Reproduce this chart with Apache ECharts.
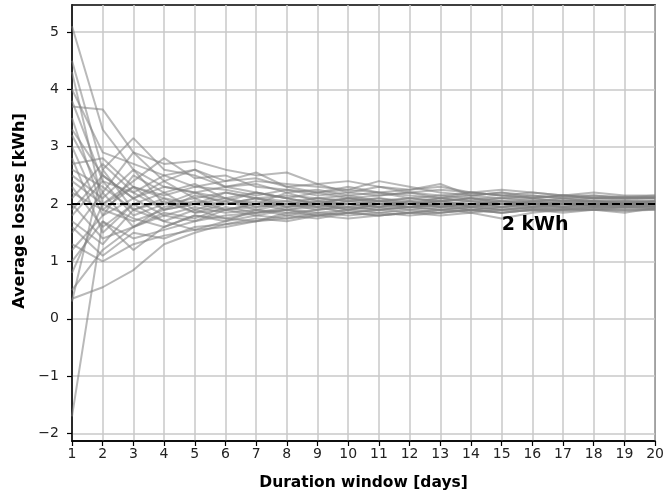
<!DOCTYPE html>
<html>
<head>
<meta charset="utf-8">
<script src="https://cdn.jsdelivr.net/npm/echarts@6/dist/echarts.min.js"></script>
<style>html,body{margin:0;padding:0;background:#fff}#c{width:667px;height:498px}</style>
</head>
<body>
<div id="c"></div>
<script>
const durationDays = [1,2,3,4,5,6,7,8,9,10,11,12,13,14,15,16,17,18,19,20];
const yTicks = [-2,-1,0,1,2,3,4,5];
const referenceLoss = 2;
const referenceLabel = '2 kWh';

const run1  = [5.1, 3.3, 2.6, 2.3, 2.2, 2.1, 2.2, 2.1, 2.0, 2.1, 2.05, 2.0, 2.1, 2.05, 2.0, 2.05, 2.1, 2.05, 2.0, 2.05];
const run2  = [4.5, 2.6, 3.15, 2.6, 2.5, 2.3, 2.35, 2.2, 2.25, 2.15, 2.2, 2.1, 2.15, 2.1, 2.1, 2.15, 2.1, 2.1, 2.12, 2.1];
const run3  = [4.3, 2.0, 2.4, 2.8, 2.45, 2.5, 2.3, 2.25, 2.2, 2.3, 2.2, 2.15, 2.1, 2.2, 2.15, 2.1, 2.15, 2.1, 2.1, 2.12];
const run4  = [3.7, 3.65, 2.9, 2.7, 2.75, 2.6, 2.5, 2.55, 2.35, 2.4, 2.3, 2.25, 2.3, 2.2, 2.25, 2.2, 2.15, 2.2, 2.15, 2.15];
const run5  = [3.5, 1.9, 1.7, 1.9, 2.0, 1.9, 1.95, 2.0, 1.9, 2.0, 1.95, 2.0, 1.95, 2.0, 1.95, 2.0, 2.0, 1.98, 2.0, 2.0];
const run6  = [3.3, 2.5, 2.1, 2.4, 2.1, 2.2, 2.1, 2.0, 2.1, 2.05, 2.1, 2.0, 2.05, 2.1, 2.0, 2.05, 2.0, 2.05, 2.02, 2.05];
const run7  = [3.0, 1.8, 2.5, 2.2, 2.35, 2.1, 2.0, 2.2, 2.05, 2.1, 2.0, 2.05, 1.95, 2.0, 2.05, 2.0, 1.95, 2.0, 2.0, 2.0];
const run8  = [2.6, 2.3, 1.9, 2.1, 1.85, 2.0, 2.1, 1.95, 2.0, 1.9, 2.0, 1.95, 2.0, 1.95, 1.9, 1.95, 2.0, 1.95, 1.98, 1.97];
const run9  = [2.5, 2.1, 2.6, 2.0, 2.2, 2.3, 2.2, 2.1, 2.2, 2.1, 2.15, 2.2, 2.1, 2.15, 2.1, 2.1, 2.05, 2.1, 2.08, 2.1];
const run10 = [2.3, 1.6, 2.0, 1.7, 1.9, 1.75, 1.85, 1.9, 1.8, 1.85, 1.9, 1.85, 1.9, 1.88, 1.9, 1.92, 1.9, 1.95, 1.93, 1.95];
const run11 = [2.1, 2.7, 2.2, 2.5, 2.3, 2.4, 2.55, 2.3, 2.2, 2.25, 2.4, 2.3, 2.2, 2.15, 2.2, 2.1, 2.15, 2.1, 2.1, 2.1];
const run12 = [2.0, 1.4, 1.6, 1.8, 1.7, 1.9, 1.8, 1.75, 1.85, 1.8, 1.85, 1.9, 1.85, 1.9, 1.85, 1.9, 1.92, 1.9, 1.95, 1.92];
const run13 = [1.8, 2.4, 1.8, 2.0, 2.1, 1.9, 2.0, 2.05, 1.95, 2.0, 1.95, 2.0, 2.05, 1.95, 2.0, 1.95, 2.0, 2.0, 1.98, 2.0];
const run14 = [1.6, 1.1, 1.5, 1.4, 1.6, 1.65, 1.75, 1.7, 1.8, 1.75, 1.8, 1.85, 1.8, 1.85, 1.75, 1.85, 1.9, 1.9, 1.85, 1.93];
const run15 = [1.5, 2.2, 2.9, 2.4, 2.6, 2.3, 2.4, 2.35, 2.3, 2.25, 2.2, 2.25, 2.35, 2.15, 2.2, 2.15, 2.1, 2.15, 2.1, 2.12];
const run16 = [1.3, 1.0, 1.3, 1.45, 1.55, 1.6, 1.7, 1.8, 1.75, 1.85, 1.8, 1.85, 1.9, 1.85, 1.9, 1.88, 1.9, 1.92, 1.9, 1.92];
const run17 = [1.0, 1.7, 1.2, 1.6, 1.8, 1.7, 1.9, 1.85, 1.9, 1.95, 1.9, 1.95, 1.9, 1.95, 1.9, 1.95, 1.93, 1.95, 1.95, 1.96];
const run18 = [0.8, 2.0, 2.3, 1.9, 2.0, 2.1, 1.95, 2.0, 2.05, 2.0, 2.05, 2.0, 2.05, 2.0, 2.05, 2.0, 2.02, 2.05, 2.02, 2.03];
const run19 = [0.35, 0.55, 0.85, 1.3, 1.5, 1.65, 1.7, 1.75, 1.8, 1.85, 1.8, 1.85, 1.85, 1.9, 1.85, 1.9, 1.88, 1.9, 1.9, 1.9];
const run20 = [0.3, 2.6, 1.9, 1.7, 1.55, 1.7, 1.8, 1.9, 1.85, 1.9, 1.95, 1.9, 1.95, 1.9, 1.95, 1.92, 1.95, 1.93, 1.95, 1.95];
const run21 = [-1.7, 1.7, 1.4, 1.55, 1.7, 1.8, 1.85, 1.9, 1.95, 1.85, 1.9, 1.95, 1.9, 1.95, 2.0, 1.95, 1.97, 2.0, 1.98, 2.0];
const run22 = [4.0, 2.9, 2.7, 2.5, 2.6, 2.4, 2.45, 2.3, 2.35, 2.2, 2.3, 2.2, 2.25, 2.2, 2.15, 2.2, 2.15, 2.15, 2.12, 2.15];
const run23 = [2.8, 1.5, 2.0, 2.2, 1.9, 2.05, 1.9, 2.0, 1.95, 2.05, 2.0, 1.95, 2.0, 2.05, 2.0, 1.98, 2.0, 2.02, 2.0, 2.0];
const run24 = [2.2, 1.9, 2.3, 2.1, 2.0, 2.2, 2.1, 2.15, 2.1, 2.05, 2.1, 2.05, 2.1, 2.05, 2.1, 2.05, 2.07, 2.05, 2.05, 2.06];
const run25 = [1.9, 2.5, 2.1, 1.8, 1.95, 1.85, 1.9, 1.8, 1.9, 1.95, 1.9, 1.95, 1.98, 1.9, 1.95, 2.0, 1.95, 1.97, 1.96, 1.97];
const run26 = [3.2, 2.2, 1.6, 1.85, 1.75, 1.95, 1.85, 1.95, 2.0, 1.95, 2.0, 1.95, 2.0, 1.98, 2.0, 2.02, 2.0, 2.0, 2.01, 2.0];
const run27 = [1.2, 1.8, 2.1, 2.3, 2.2, 2.0, 2.1, 2.05, 2.1, 2.15, 2.05, 2.1, 2.05, 2.1, 2.05, 2.08, 2.05, 2.06, 2.05, 2.05];
const run28 = [2.4, 2.0, 1.75, 1.6, 1.8, 1.75, 1.7, 1.85, 1.8, 1.9, 1.85, 1.8, 1.85, 1.9, 1.85, 1.9, 1.85, 1.9, 1.88, 1.9];
const run29 = [1.7, 1.3, 1.9, 2.05, 1.85, 1.9, 2.0, 1.9, 2.0, 1.9, 2.0, 2.0, 1.95, 2.0, 1.95, 2.0, 2.0, 1.98, 2.0, 1.99];
const run30 = [2.7, 2.8, 2.3, 2.15, 2.3, 2.25, 2.15, 2.25, 2.15, 2.2, 2.15, 2.2, 2.15, 2.2, 2.15, 2.12, 2.15, 2.12, 2.13, 2.12];
const run31 = [0.5, 1.2, 1.6, 1.95, 2.05, 2.0, 2.05, 1.95, 2.05, 2.0, 1.95, 2.05, 2.0, 1.95, 2.0, 2.0, 2.02, 1.98, 2.0, 2.0];
const run32 = [3.8, 2.4, 2.2, 1.9, 2.15, 2.05, 2.2, 2.1, 2.0, 2.1, 2.05, 2.1, 2.05, 2.1, 2.05, 2.03, 2.05, 2.04, 2.05, 2.03];

const runs = [run1,run2,run3,run4,run5,run6,run7,run8,run9,run10,run11,run12,run13,run14,run15,run16,
              run17,run18,run19,run20,run21,run22,run23,run24,run25,run26,run27,run28,run29,run30,run31,run32];

const FONT = 'DejaVu Sans';
const chart = echarts.init(document.getElementById('c'), null, {renderer: 'canvas'});

const series = runs.map((r, i) => ({
  type: 'line',
  data: r.map((v, j) => [durationDays[j], v]),
  showSymbol: false,
  symbol: 'none',
  silent: true,
  lineStyle: {color: 'rgba(128,128,128,0.55)', width: 2},
  z: 2,
  animation: false
}));

series.push({
  type: 'line',
  data: [],
  silent: true,
  animation: false,
  markLine: {
    silent: true,
    symbol: 'none',
    label: {show: false},
    lineStyle: {color: '#000', width: 2, type: [8, 4]},
    data: [{yAxis: referenceLoss}],
    animation: false
  },
  markPoint: {
    symbol: 'circle',
    symbolSize: 0,
    label: {
      show: true,
      formatter: referenceLabel,
      position: 'right',
      distance: 0,
      color: '#000',
      fontFamily: FONT,
      fontWeight: 'bold',
      fontSize: 19
    },
    data: [{coord: [15, 1.63]}],
    animation: false
  },
  z: 5
});

chart.setOption({
  animation: false,
  backgroundColor: '#fff',
  grid: {left: 72, right: 10, top: 5, bottom: 57, containLabel: false, show: true, borderColor: '#000', borderWidth: 1.5, backgroundColor: 'transparent'},
  xAxis: {
    type: 'value', min: 1, max: 20, interval: 1,
    name: 'Duration window [days]', nameLocation: 'middle', nameGap: 34,
    nameTextStyle: {fontFamily: FONT, fontWeight: 'bold', fontSize: 15.5, color: '#000'},
    axisLine: {show: true, onZero: false, lineStyle: {color: '#000', width: 1.5}},
    axisTick: {show: true, length: 5, lineStyle: {color: '#000', width: 1.2}},
    axisLabel: {fontFamily: FONT, fontSize: 14, color: '#222', margin: 6},
    splitLine: {show: true, lineStyle: {color: '#c8c8c8', width: 1.5}}
  },
  yAxis: {
    type: 'value', min: -2.13, max: 5.47,
    interval: 1,
    name: 'Average losses [kWh]', nameLocation: 'middle', nameGap: 44,
    nameTextStyle: {fontFamily: FONT, fontWeight: 'bold', fontSize: 16, color: '#000', padding: [0, 0, 0, 24]},
    axisLine: {show: true, onZero: false, lineStyle: {color: '#000', width: 1.5}},
    axisTick: {show: true, length: 5, lineStyle: {color: '#000', width: 1.2}, customValues: yTicks},
    axisLabel: {fontFamily: FONT, fontSize: 14, color: '#222', margin: 13, customValues: yTicks,
      formatter: v => (v < 0 ? '\u2212' + Math.abs(v) : String(v))},
    splitLine: {show: true, lineStyle: {color: '#c8c8c8', width: 1.5}}
  },
  series: series
});
</script>
</body>
</html>
